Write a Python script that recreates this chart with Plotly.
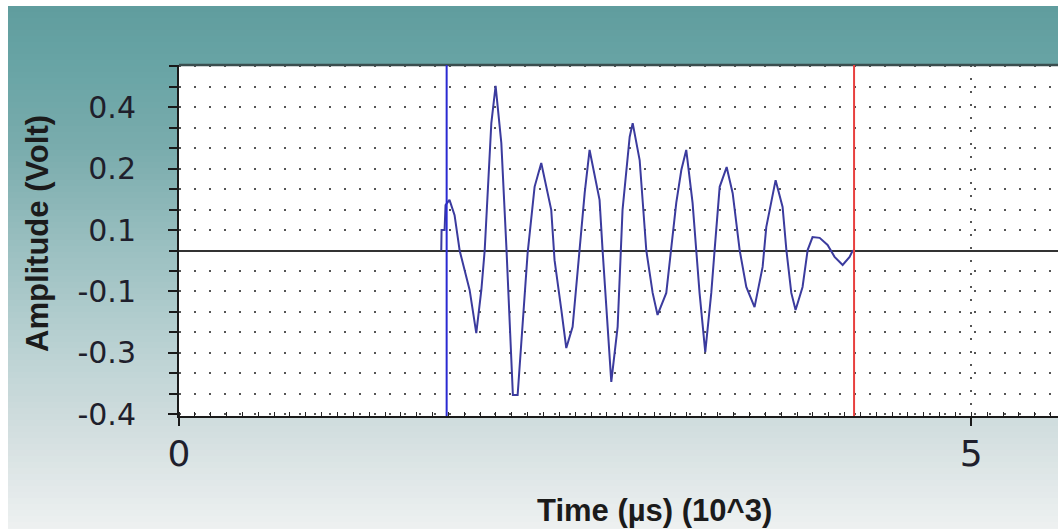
import plotly.graph_objects as go

# Received ultrasonic echo: time in units of 10^3 µs, amplitude in volts
time_k_us = [1.655, 1.657, 1.676, 1.682, 1.707, 1.739, 1.771, 1.809, 1.834, 1.876,
             1.908, 1.929, 1.948, 1.971, 1.998, 2.034, 2.066, 2.086, 2.107, 2.137,
             2.168, 2.200, 2.244, 2.286, 2.349, 2.370, 2.413, 2.444, 2.484, 2.528,
             2.560, 2.591, 2.654, 2.673, 2.705, 2.728, 2.768, 2.799, 2.844, 2.863,
             2.907, 2.925, 2.949, 2.989, 3.020, 3.075, 3.107, 3.138, 3.170, 3.201,
             3.241, 3.265, 3.285, 3.321, 3.359, 3.380, 3.412, 3.456, 3.494, 3.538,
             3.580, 3.632, 3.683, 3.706, 3.765, 3.809, 3.833, 3.864, 3.891, 3.935,
             3.967, 3.998, 4.043, 4.093, 4.137, 4.188, 4.232, 4.253]
amplitude_v = [0.000, 0.055, 0.055, 0.122, 0.136, 0.095, 0.000, -0.066, -0.106, -0.222,
               -0.106, 0.000, 0.144, 0.342, 0.442, 0.289, 0.009, -0.205, -0.388, -0.388,
               -0.205, -0.007, 0.171, 0.235, 0.109, -0.026, -0.160, -0.262, -0.205, -0.007,
               0.154, 0.270, 0.136, 0.001, -0.205, -0.353, -0.205, 0.109, 0.305, 0.342,
               0.243, 0.136, 0.000, -0.114, -0.173, -0.114, 0.001, 0.128, 0.216, 0.270,
               0.128, 0.001, -0.114, -0.273, -0.114, 0.001, 0.171, 0.224, 0.154, 0.001,
               -0.098, -0.152, -0.044, 0.063, 0.189, 0.117, 0.001, -0.114, -0.160, -0.098,
               0.001, 0.036, 0.034, 0.015, -0.017, -0.039, -0.017, 0.001]

# Measurement gate (start / end cursors)
gate_start = 1.689
gate_end = 4.26

# Axis scales
x_range = [0, 5.547]
y_range = [-0.4445, 0.4982]
grid_step = 0.055
y_tick_vals = [0.385, 0.22, 0.055, -0.11, -0.275, -0.44]
y_tick_text = ["0.4", "0.2", "0.1", "-0.1", "-0.3", "-0.4"]
x_tick_vals = [0, 5]
x_tick_text = ["0", "5"]

W, H = 1058, 529
L, R, T, B = 179, 0, 65, 113
PW, PH = W - L - R, H - T - B


def px_to_paper_x(px):
    return (px - L) / PW


def px_to_paper_y(py):
    return (H - B - py) / PH


# Window background: teal band fading to pale grey towards the bottom
bg_stops = [(6, (96, 157, 158)), (65, (104, 164, 165)), (150, (122, 172, 173)),
            (250, (155, 192, 193)), (350, (187, 210, 211)), (430, (210, 222, 223)),
            (529, (238, 241, 241))]


def bg_color(py):
    for (y0, c0), (y1, c1) in zip(bg_stops[:-1], bg_stops[1:]):
        if y0 <= py <= y1:
            t = (py - y0) / (y1 - y0)
            return "rgb(%d,%d,%d)" % tuple(round(a + (b - a) * t) for a, b in zip(c0, c1))
    return "rgb(%d,%d,%d)" % bg_stops[-1][1]


shapes = []
step = 6
for py in range(6, H, step):
    shapes.append(dict(type="rect", xref="paper", yref="paper", layer="below",
                       x0=px_to_paper_x(8), x1=px_to_paper_x(W + 2),
                       y0=px_to_paper_y(min(py + step + 1, H + 2)), y1=px_to_paper_y(py),
                       fillcolor=bg_color(py + step / 2), line=dict(width=0)))
# white plotting area
shapes.append(dict(type="rect", xref="paper", yref="paper", layer="below",
                   x0=0, x1=1, y0=0, y1=1, fillcolor="white", line=dict(width=0)))
# frame top edge
shapes.append(dict(type="line", xref="paper", yref="paper", layer="above",
                   x0=0, x1=1, y0=1, y1=1, line=dict(color="#3b4e4f", width=2.5)))
# gate cursors
shapes.append(dict(type="line", xref="x", yref="paper", layer="above",
                   x0=gate_start, x1=gate_start, y0=0, y1=1,
                   line=dict(color="#2a2ad2", width=2)))
shapes.append(dict(type="line", xref="x", yref="paper", layer="above",
                   x0=gate_end, x1=gate_end, y0=0, y1=1,
                   line=dict(color="#e8403f", width=2)))

fig = go.Figure()
fig.add_trace(go.Scatter(x=time_k_us, y=amplitude_v, mode="lines",
                         line=dict(color="#3b3b9e", width=2),
                         showlegend=False, hoverinfo="x+y"))

title_font = dict(family="Liberation Sans, Arial, sans-serif", size=31,
                  color="#1b1b1b", weight="bold")
annotations = [
    dict(text="Time (µs) (10^3)", xref="paper", yref="paper",
         x=px_to_paper_x(654), y=px_to_paper_y(510), xanchor="center", yanchor="middle",
         showarrow=False, font=title_font),
    dict(text="Amplitude (Volt)", xref="paper", yref="paper",
         x=px_to_paper_x(37), y=px_to_paper_y(234), xanchor="center", yanchor="middle",
         textangle=-90, showarrow=False, font=title_font),
]

dot_grid = "2px,13px"
tick_font_family = "DejaVu Sans, Verdana, sans-serif"

fig.update_layout(
    width=W, height=H, autosize=False,
    margin=dict(l=L, r=R, t=T, b=B, pad=0),
    paper_bgcolor="white",
    plot_bgcolor="rgba(0,0,0,0)",
    shapes=shapes,
    annotations=annotations,
    showlegend=False,
    xaxis=dict(
        range=x_range, tickmode="array", tickvals=x_tick_vals, ticktext=x_tick_text,
        ticks="outside", ticklen=8, tickwidth=2, tickcolor="#1a1a1a",
        tickfont=dict(family=tick_font_family, size=36, color="#1f1f2c"),
        ticklabelstandoff=-3,
        showline=True, linecolor="#1a1a1a", linewidth=2,
        showgrid=True, gridcolor="#555555", gridwidth=2, griddash="2px,11px",
        zeroline=False,
        minor=dict(tick0=0, dtick=0.1, ticks="inside", ticklen=4, tickwidth=1,
                   tickcolor="#222222", showgrid=False),
    ),
    yaxis=dict(
        range=y_range, tickmode="array", tickvals=y_tick_vals, ticktext=y_tick_text,
        ticks="outside", ticklen=9, tickwidth=2, tickcolor="#1a1a1a",
        tickfont=dict(family=tick_font_family, size=30, color="#1f1f2c"),
        ticklabelstandoff=26,
        showline=True, linecolor="#1a1a1a", linewidth=2,
        showgrid=True, gridcolor="#555555", gridwidth=2, griddash=dot_grid,
        zeroline=True, zerolinecolor="#333333", zerolinewidth=2,
        minor=dict(tick0=0, dtick=grid_step, ticks="outside", ticklen=8, tickwidth=2,
                   tickcolor="#1a1a1a", showgrid=True, gridcolor="#555555",
                   gridwidth=2, griddash=dot_grid),
    ),
)

fig.write_html("out.html")
